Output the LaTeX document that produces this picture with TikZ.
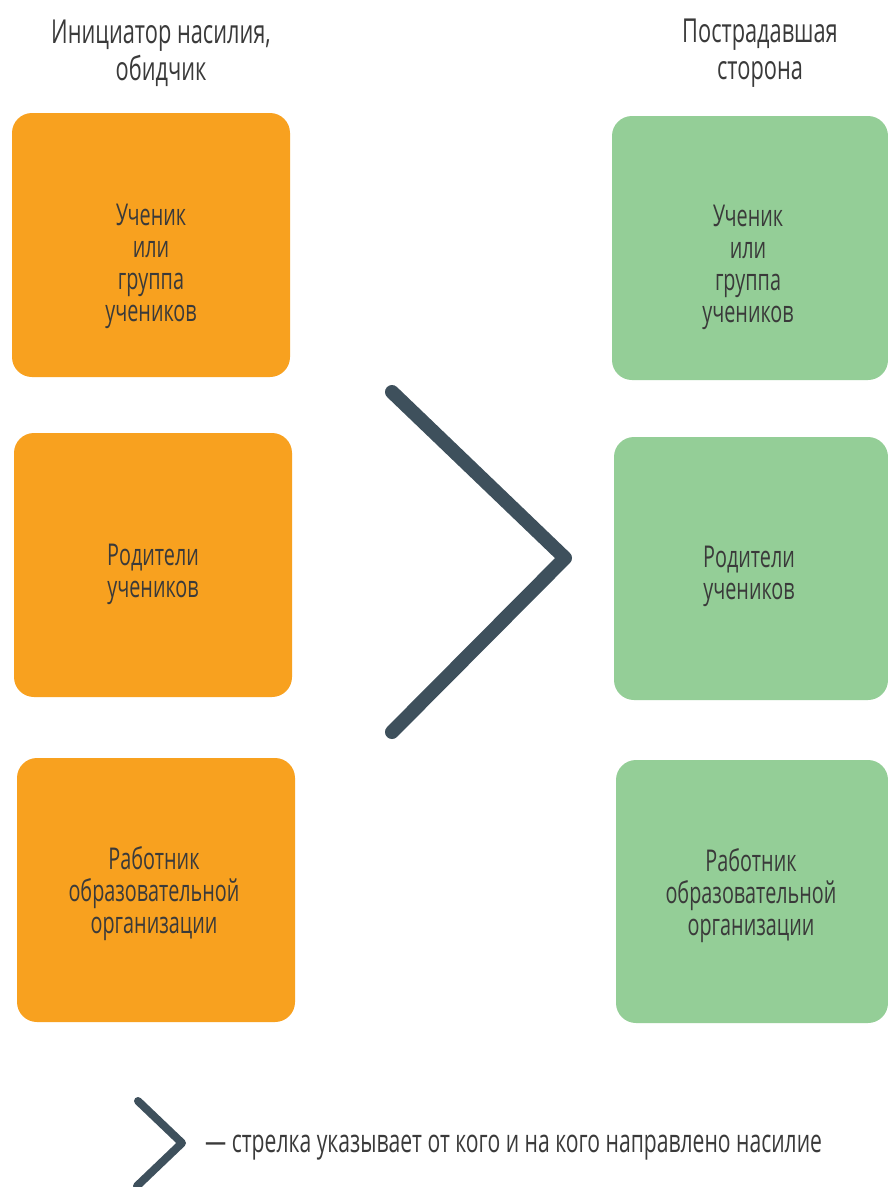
\documentclass[tikz,border=0pt]{standalone}
\usepackage{fontspec}
\setmainfont{Open Sans}[FakeStretch=0.66]
\definecolor{orangebox}{HTML}{F8A11F}
\definecolor{greenbox}{HTML}{94CE97}
\definecolor{chev}{HTML}{3E505C}
\definecolor{txt}{HTML}{3A3A3A}
\begin{document}
\begin{tikzpicture}[x=1pt,y=-1pt,
  obox/.style={fill=orangebox,rounded corners=20pt},
  gbox/.style={fill=greenbox,rounded corners=20pt},
  lbl/.style={text=txt,align=center,font=\fontsize{30}{32}\selectfont},
  head/.style={text=txt,align=center,font=\fontsize{33}{37}\selectfont},
  chevline/.style={draw=chev,line cap=round,line join=round}]
\useasboundingbox (0,0) rectangle (888,1187);
\fill[white] (0,0) rectangle (888,1187);
% headers
\node[head] (hl) at (161,53) {Инициатор насилия,\\обидчик};
\node[head] (hr) at (760,53) {Пострадавшая\\сторона};
% left boxes
\fill[obox] (12,113) rectangle (290,377);
\fill[obox] (14,433) rectangle (292,697);
\fill[obox] (17,758) rectangle (295,1022);
% right boxes
\fill[gbox] (612,116) rectangle (888,380);
\fill[gbox] (614,437) rectangle (888,700);
\fill[gbox] (616,760) rectangle (888,1023);
% labels
\node[lbl] (l1) at (151,266) {Ученик\\или\\группа\\учеников};
\node[lbl] (l2) at (153,574) {Родители\\учеников};
\node[lbl] (l3) at (154,894) {Работник\\образовательной\\организации};
\node[lbl] (r1) at (748,267) {Ученик\\или\\группа\\учеников};
\node[lbl] (r2) at (749,576) {Родители\\учеников};
\node[lbl] (r3) at (751,896) {Работник\\образовательной\\организации};
% main chevron
\coordinate (ca) at (392,392);
\coordinate (cb) at (565,558);
\coordinate (cc) at (392,732);
\draw[chevline,line width=14pt] (ca) -- (cb) -- (cc);
% legend
\coordinate (la) at (138,1101);
\coordinate (lb) at (182,1143);
\coordinate (lc) at (137,1186);
\draw[chevline,line width=8pt] (la) -- (lb) -- (lc);
\node[lbl,anchor=base west,inner sep=0pt,font=\fontsize{32}{34}\selectfont] (leg) at (205,1152) {— стрелка указывает от кого и на кого направлено насилие};
\end{tikzpicture}
\end{document}
